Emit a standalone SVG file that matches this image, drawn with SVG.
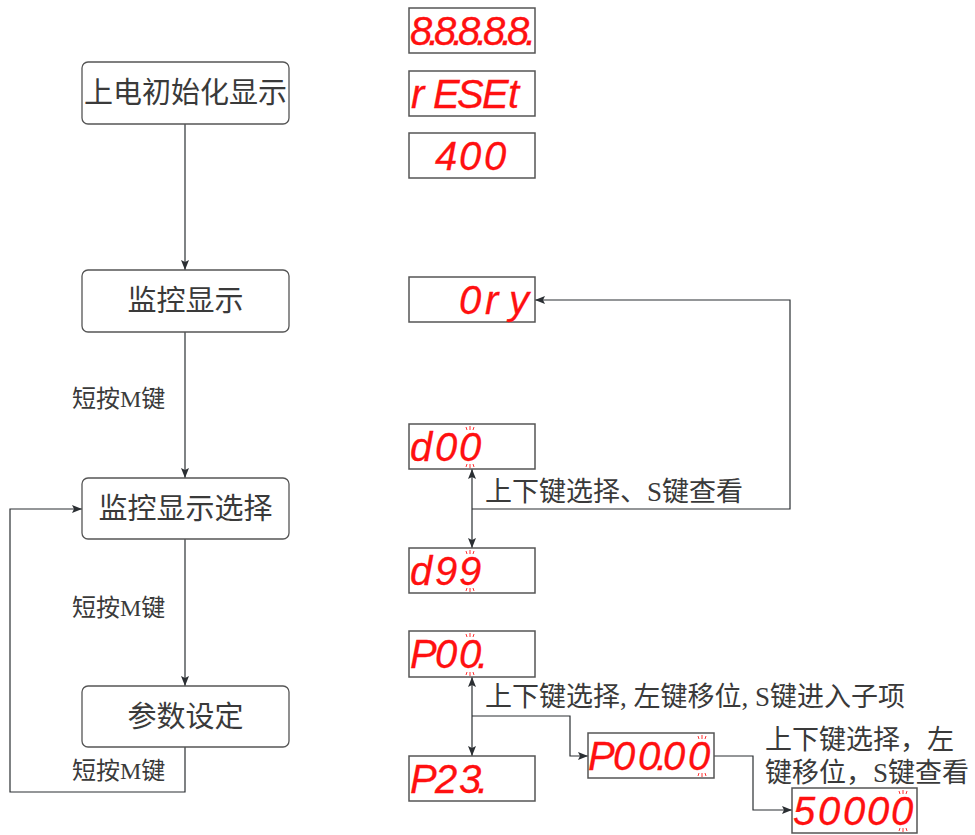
<svg xmlns="http://www.w3.org/2000/svg" width="975" height="835" viewBox="0 0 975 835">
<defs>
<marker id="arr" viewBox="0 0 10 8" refX="10" refY="4" markerWidth="10" markerHeight="8" markerUnits="userSpaceOnUse" orient="auto-start-reverse">
<path d="M0,0 L10,4 L0,8 L2,4 Z" fill="#2b2f33"/>
</marker>
<style>
.box{fill:#fff;stroke:#555;stroke-width:1.3}
.disp{fill:#fff;stroke:#555;stroke-width:1.5}
.lbl{font-family:"Liberation Serif","Noto Sans CJK SC",serif;fill:#3a3a3a}
.big{font-size:29px;text-anchor:middle}
.mid{font-size:24px}
.note{font-size:27px}
.seg{font-family:"Liberation Sans",sans-serif;font-style:italic;font-size:40px;fill:#ff1010;stroke:#ff1010;stroke-width:0.3}
.blink{stroke:#ff3030;stroke-width:1;fill:none}
.con{fill:none;stroke:#2b2f33;stroke-width:1.2}
</style>
</defs>

<g id="connectors">
<path class="con" d="M185 124 V270" marker-end="url(#arr)"/>
<path class="con" d="M185 332 V478" marker-end="url(#arr)"/>
<path class="con" d="M185 539 V686" marker-end="url(#arr)"/>
<path class="con" d="M185 747 V792 H10 V509 H82" marker-end="url(#arr)"/>
<path class="con" d="M472 509 H790 V300 H535" marker-end="url(#arr)"/>
<path class="con" d="M472 469 V548" marker-start="url(#arr)" marker-end="url(#arr)"/>
<path class="con" d="M472 677 V756" marker-start="url(#arr)" marker-end="url(#arr)"/>
<path class="con" d="M472 716 H570 V756 H588" marker-end="url(#arr)"/>
<path class="con" d="M714 756 H753 V810 H792" marker-end="url(#arr)"/>
</g>

<g id="n-power">
<rect class="box" x="82" y="62" width="207" height="62" rx="6"/>
<text class="lbl big" x="185.500" y="103">上电初始化显示</text>
</g>
<g id="n-monitor">
<rect class="box" x="82" y="270" width="207" height="62" rx="6"/>
<text class="lbl big" x="185.500" y="311">监控显示</text>
</g>
<g id="n-monsel">
<rect class="box" x="82" y="478" width="207" height="61" rx="6"/>
<text class="lbl big" x="185.500" y="519">监控显示选择</text>
</g>
<g id="n-param">
<rect class="box" x="82" y="686" width="207" height="61" rx="6"/>
<text class="lbl big" x="185.500" y="727">参数设定</text>
</g>

<g id="labels-left">
<text class="lbl mid" x="72" y="407">短按M键</text>
<text class="lbl mid" x="72" y="616">短按M键</text>
<text class="lbl mid" x="72" y="779">短按M键</text>
</g>

<g id="labels-right">
<text class="lbl note" x="485" y="501">上下键选择、S键查看</text>
<text class="lbl note" x="485" y="706" xml:space="preserve">上下键选择, 左键移位, S键进入子项</text>
<text class="lbl note" x="765" y="749">上下键选择，左</text>
<text class="lbl note" x="765" y="782">键移位，S键查看</text>
</g>

<g id="d-88888">
<rect class="disp" x="409" y="8" width="126" height="45"/>
<text class="seg" x="410 428 434 452 458 476 483 501 507 525" y="45">8.8.8.8.8.</text>
</g>
<g id="d-reset">
<rect class="disp" x="409" y="71" width="126" height="45"/>
<text class="seg" x="411 433 457 482 508" y="108">rESEt</text>
</g>
<g id="d-400">
<rect class="disp" x="409" y="133" width="126" height="45"/>
<text class="seg" x="435 459 484" y="170">400</text>
</g>
<g id="d-0ry">
<rect class="disp" x="409" y="277" width="126" height="45"/>
<text class="seg" x="459 485 509" y="314">0ry</text>
</g>
<g id="d-d00">
<rect class="disp" x="409" y="424" width="126" height="45"/>
<text class="seg" x="410 435 459" y="461">d00</text>
<path class="blink" d="M466 427 l1 3 M470 426 v4 M474 427 l-1 3 M466 467 l1 -3 M470 468 v-4 M474 467 l-1 -3"/>
</g>
<g id="d-d99">
<rect class="disp" x="409" y="548" width="126" height="45"/>
<text class="seg" x="410 435 459" y="585">d99</text>
<path class="blink" d="M466 551 l1 3 M470 550 v4 M474 551 l-1 3 M466 591 l1 -3 M470 592 v-4 M474 591 l-1 -3"/>
</g>
<g id="d-p00">
<rect class="disp" x="409" y="631" width="126" height="46"/>
<text class="seg" x="410 435 459 477" y="668">P00.</text>
<path class="blink" d="M466 634 l1 3 M470 633 v4 M474 634 l-1 3 M466 675 l1 -3 M470 676 v-4 M474 675 l-1 -3"/>
</g>
<g id="d-p23">
<rect class="disp" x="409" y="756" width="126" height="45"/>
<text class="seg" x="410 435 459 477" y="793">P23.</text>
</g>
<g id="d-p0000">
<rect class="disp" x="588" y="733" width="126" height="45"/>
<text class="seg" x="588 613 638 656 663 688" y="770">P00.00</text>
<path class="blink" d="M698 736 l1 3 M702 735 v4 M706 736 l-1 3 M698 776 l1 -3 M702 777 v-4 M706 776 l-1 -3"/>
</g>
<g id="d-50000">
<rect class="disp" x="792" y="788" width="125" height="45"/>
<text class="seg" x="793 818 843 867 891" y="825">50000</text>
<path class="blink" d="M899 791 l1 3 M903 790 v4 M907 791 l-1 3 M899 831 l1 -3 M903 832 v-4 M907 831 l-1 -3"/>
</g>
</svg>
